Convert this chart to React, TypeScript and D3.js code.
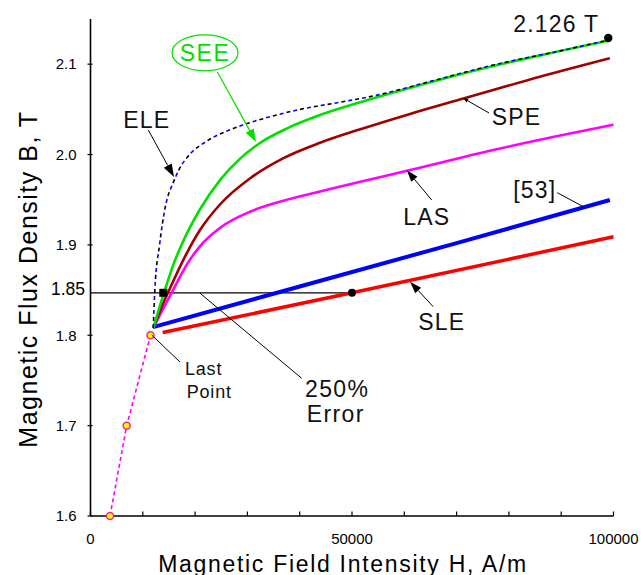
import React from 'react';
import * as d3 from 'd3';

type Pt = [number, number];

// Field intensity H (A/m), flux density B (T)
const measuredPoints: Pt[] = [[3730, 1.6], [6920, 1.7], [11470, 1.8]];

const seeCurve: Pt[] = [
  [12000, 1.808], [14000, 1.846], [15900, 1.879], [17800, 1.905], [21000, 1.940],
  [24800, 1.972], [28700, 1.996], [32200, 2.012], [37600, 2.029], [44000, 2.044],
  [51600, 2.058], [64300, 2.079], [77000, 2.098], [89800, 2.1145], [99300, 2.1265],
];

const eleCurve: Pt[] = [
  [12000, 1.808], [12300, 1.85], [13200, 1.9], [14300, 1.942], [15900, 1.970],
  [16900, 1.983], [19100, 2.001], [22000, 2.014], [27400, 2.029], [33800, 2.041],
  [40100, 2.050], [47800, 2.058], [55000, 2.066], [65000, 2.081], [77000, 2.099],
  [90000, 2.115], [99300, 2.127],
];

const speCurve: Pt[] = [
  [12000, 1.808], [13500, 1.830], [15200, 1.852], [17800, 1.884], [21000, 1.917],
  [24800, 1.945], [30600, 1.974], [36900, 1.996], [43900, 2.013], [51600, 2.028],
  [61100, 2.045], [71300, 2.062], [83400, 2.082], [99300, 2.1065],
];

const lasCurve: Pt[] = [
  [12000, 1.808], [13600, 1.826], [15600, 1.848], [18500, 1.879], [21000, 1.899],
  [24800, 1.919], [30600, 1.937], [36900, 1.949], [43900, 1.959], [51600, 1.970],
  [60500, 1.982], [77000, 2.005], [89800, 2.021], [100000, 2.033],
];

const ref53Curve: Pt[] = [[11950, 1.809], [40000, 1.854], [70000, 1.902], [99300, 1.9497]];

const sleCurve: Pt[] = [[13800, 1.803], [50000, 1.847], [100000, 1.909]];

const xTicks = [0, 10000, 20000, 30000, 40000, 50000, 60000, 70000, 80000, 90000, 100000];
const xTickLabels: [number, string][] = [[0, '0'], [50000, '50000'], [100000, '100000']];
const yTicks: [number, string][] = [[1.6, '1.6'], [1.7, '1.7'], [1.8, '1.8'], [1.9, '1.9'], [2.0, '2.0'], [2.1, '2.1']];
const refLevel: [number, string] = [1.847, '1.85'];

const lastMeasured: Pt = [13920, 1.847];
const sleMark: Pt = [50000, 1.847];
const peakMark: Pt = [99000, 2.129];

const FONT = '"Liberation Sans", Arial, sans-serif';

function arrow(x1: number, y1: number, x2: number, y2: number, L: number, w: number) {
  const dx = x2 - x1, dy = y2 - y1;
  const len = Math.hypot(dx, dy);
  const ux = dx / len, uy = dy / len;
  const bx = x2 - ux * L, by = y2 - uy * L;
  const nx = -uy, ny = ux;
  return {
    line: [x1, y1, bx, by],
    head: `${x2},${y2} ${bx + nx * w},${by + ny * w} ${bx - nx * w},${by - ny * w}`,
  };
}

export default function App() {
  const W = 641, Hh = 575;
  const x = d3.scaleLinear().domain([0, 100000]).range([90.5, 613.5]);
  const y = d3.scaleLinear().domain([1.6, 2.15]).range([516, 19]);
  const line = d3.line<Pt>().x(d => x(d[0])).y(d => y(d[1])).curve(d3.curveMonotoneX);
  const straight = d3.line<Pt>().x(d => x(d[0])).y(d => y(d[1]));

  const P = (h: number, b: number): [number, number] => [x(h), y(b)];

  const arrows = [
    { from: [24240, 2.0917], to: [31640, 2.0139], color: '#00dd00', L: 13, w: 4.5, sw: 1.2 },
    { from: [11050, 2.0272], to: [15970, 1.9752], color: '#000', L: 13, w: 4.5, sw: 1 },
    { from: [76200, 2.046], to: [71280, 2.0623], color: '#000', L: 5, w: 2, sw: 1 },
    { from: [65240, 1.9497], to: [60460, 1.9829], color: '#000', L: 12, w: 4, sw: 1 },
    { from: [65540, 1.8316], to: [61090, 1.8593], color: '#000', L: 12, w: 4, sw: 1 },
  ];
  const plainLines = [
    { from: [89250, 1.9578], to: [94230, 1.9423] },
    { from: [11700, 1.8003], to: [17110, 1.7704] },
    { from: [20940, 1.8465], to: [40380, 1.7524] },
  ];

  const labels: { pos: Pt; text: string }[] = [
    { pos: [6270, 2.029], text: 'ELE' },
    { pos: [76710, 2.0327], text: 'SPE' },
    { pos: [59810, 1.922], text: 'LAS' },
    { pos: [80840, 1.9516], text: '[53]' },
    { pos: [62680, 1.8058], text: 'SLE' },
    { pos: [80840, 2.136], text: '2.126 T' },
  ];

  const seeCenter = P(21890, 2.1126);

  return (
    <svg width={W} height={Hh} style={{ position: 'absolute', left: 0, top: 0, background: '#fff' }}
      fontFamily={FONT}>
      <rect x={0} y={0} width={W} height={Hh} fill="#fff" />
      {/* axes */}
      <line x1={x(0)} y1={y(1.6)} x2={x(0)} y2={y(2.15)} stroke="#000" strokeWidth={1.6} />
      <line x1={x(0)} y1={y(1.6)} x2={x(100000)} y2={y(1.6)} stroke="#000" strokeWidth={1.6} />
      {xTicks.map(t => (
        <line key={'xt' + t} x1={x(t)} x2={x(t)} y1={y(1.6)} y2={y(1.6) - 4.5} stroke="#000" strokeWidth={1.2} />
      ))}
      {yTicks.map(([v]) => (
        <line key={'yt' + v} x1={x(0) - 3} x2={x(0) + 2} y1={y(v)} y2={y(v)} stroke="#000" strokeWidth={1.2} />
      ))}
      {xTickLabels.map(([v, s]) => (
        <text key={'xl' + v} x={x(v)} y={544} textAnchor="middle" fontSize={15}>{s}</text>
      ))}
      {yTicks.map(([v, s]) => (
        <text key={'yl' + v} x={76.5} y={y(v) + 5.3} textAnchor="end" fontSize={15}>{s}</text>
      ))}
      <text x={85} y={y(refLevel[0]) + 2} textAnchor="end" fontSize={17.5}>{refLevel[1]}</text>

      <text x={343} y={571.5} textAnchor="middle" fontSize={23} letterSpacing={1.7}>Magnetic Field Intensity H, A/m</text>
      <text transform={`translate(36.5,279) rotate(-90)`} textAnchor="middle" fontSize={25} letterSpacing={1.5}>Magnetic Flux Density B, T</text>

      {/* reference level line */}
      <line x1={x(0)} x2={x(sleMark[0])} y1={y(refLevel[0])} y2={y(refLevel[0])} stroke="#000" strokeWidth={1.3} />

      {/* curves */}
      <path d={straight(measuredPoints) || ''} fill="none" stroke="#ff00ff" strokeWidth={1.6} strokeDasharray="4 3" />
      <path d={straight(sleCurve) || ''} fill="none" stroke="#ff0000" strokeWidth={3.5} />
      <path d={straight(ref53Curve) || ''} fill="none" stroke="#0000ff" strokeWidth={4} />
      <path d={line(lasCurve) || ''} fill="none" stroke="#ff00ff" strokeWidth={2.6} />
      <path d={line(speCurve) || ''} fill="none" stroke="#a00000" strokeWidth={2.6} />
      <path d={line(seeCurve) || ''} fill="none" stroke="#00e000" strokeWidth={2.6} />
      <path d={line(eleCurve) || ''} fill="none" stroke="#0000ff" strokeWidth={1.6} strokeDasharray="4 10" />
      <path d={line(eleCurve) || ''} fill="none" stroke="#000" strokeWidth={1.6} strokeDasharray="4 10" strokeDashoffset={-7} />

      {measuredPoints.map((p, i) => (
        <circle key={'mp' + i} cx={x(p[0])} cy={y(p[1])} r={3.5} fill="#ffff00" stroke="#ff2090" strokeWidth={1.5} />
      ))}

      {/* markers */}
      <rect x={x(lastMeasured[0]) - 4} y={y(lastMeasured[1]) - 4} width={8} height={8} fill="#000" />
      <circle cx={x(sleMark[0])} cy={y(sleMark[1])} r={4} fill="#000" />
      <circle cx={x(peakMark[0])} cy={y(peakMark[1])} r={4.2} fill="#000" />

      {/* annotations */}
      {arrows.map((a, i) => {
        const [x1, y1] = P(a.from[0], a.from[1]);
        const [x2, y2] = P(a.to[0], a.to[1]);
        const ar = arrow(x1, y1, x2, y2, a.L, a.w);
        return (
          <g key={'ar' + i}>
            <line x1={ar.line[0]} y1={ar.line[1]} x2={ar.line[2]} y2={ar.line[3]} stroke={a.color} strokeWidth={a.sw} />
            <polygon points={ar.head} fill={a.color} />
          </g>
        );
      })}
      {plainLines.map((l, i) => {
        const [x1, y1] = P(l.from[0], l.from[1]);
        const [x2, y2] = P(l.to[0], l.to[1]);
        return <line key={'pl' + i} x1={x1} y1={y1} x2={x2} y2={y2} stroke="#000" strokeWidth={1} />;
      })}
      {labels.map((l, i) => (
        <text key={'lb' + i} x={x(l.pos[0])} y={y(l.pos[1])} fontSize={23} letterSpacing={1.2} fill="#111">{l.text}</text>
      ))}
      <ellipse cx={seeCenter[0]} cy={seeCenter[1]} rx={33} ry={18} fill="none" stroke="#00e000" strokeWidth={1.2} />
      <text x={seeCenter[0]} y={seeCenter[1] + 8.5} textAnchor="middle" fontSize={23} letterSpacing={1.5} fill="#00e000">SEE</text>

      <text x={x(18070)} y={y(1.756)} fontSize={18} letterSpacing={0.8} fill="#111">
        <tspan x={x(18070)}>Last</tspan>
        <tspan x={x(18400)} dy={23}>Point</tspan>
      </text>
      <text x={x(41010)} y={y(1.732)} fontSize={23} letterSpacing={1.4} fill="#111">
        <tspan x={x(41010)}>250%</tspan>
        <tspan x={x(41330)} dy={25}>Error</tspan>
      </text>
    </svg>
  );
}
